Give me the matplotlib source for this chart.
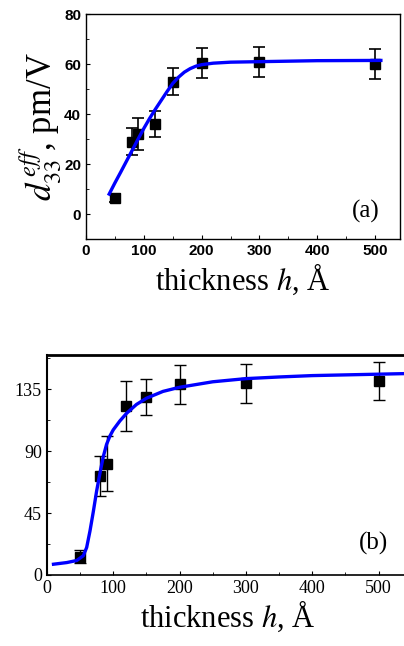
import numpy as np
import matplotlib.pyplot as plt
from matplotlib.ticker import MultipleLocator

plt.rcParams['mathtext.fontset'] = 'stix'

# panel (a): measured points
h_a = [50, 80, 90, 120, 150, 200, 300, 500]
d_a = [6.5, 29, 32, 36, 53, 60.5, 61, 60]
err_a = [1.5, 5.5, 6.3, 5.3, 5.5, 6, 6, 6]
# panel (a): fitted curve
fit_h_a = [40, 50, 60, 70, 80, 90, 100, 110, 120, 130, 140, 150, 160, 170,
           180, 190, 200, 220, 250, 300, 400, 510]
fit_d_a = [8.0, 12.5, 16.8, 21.2, 25.6, 30.0, 34.3, 38.3, 42.0, 45.5, 49.0,
           52.3, 54.8, 56.8, 58.2, 59.2, 59.8, 60.4, 60.8, 61.0, 61.4, 61.5]

# panel (b): measured points
h_b = [50, 80, 90, 120, 150, 200, 300, 500]
d_b = [13.4, 71.8, 80.8, 123, 129.4, 138.7, 139.4, 141]
err_b = [5, 14.5, 20, 18, 13, 14, 14, 14]
# panel (b): fitted curve
fit_h_b = [10, 30, 45, 55, 60, 65, 70, 75, 80, 85, 90, 95, 100, 110, 120,
           135, 150, 175, 200, 250, 300, 350, 400, 545]
fit_d_b = [7.8, 9.0, 10.5, 14, 20, 32, 46, 61, 74, 86, 95, 101, 105.5, 112,
           117.5, 124, 128.5, 133.5, 136.5, 140.5, 142.8, 144, 145, 146.5]

fig = plt.figure(figsize=(4.04, 6.46), dpi=100)

# ---- (a)
ax1 = fig.add_axes([0.213, 0.630, 0.777, 0.348])
ax1.errorbar(h_a, d_a, yerr=err_a, fmt='s', color='black', ms=7,
             capsize=4, elinewidth=1.2, capthick=1.2, zorder=2)
ax1.plot(fit_h_a, fit_d_a, color='#0000ff', lw=2.4, zorder=3)
ax1.set_xlim(0, 543)
ax1.set_ylim(-10, 80)
ax1.xaxis.set_major_locator(MultipleLocator(100))
ax1.xaxis.set_minor_locator(MultipleLocator(50))
ax1.yaxis.set_major_locator(MultipleLocator(20))
ax1.yaxis.set_minor_locator(MultipleLocator(10))
ax1.tick_params(which='both', direction='in', top=False, right=False)
ax1.tick_params(which='major', length=3)
ax1.tick_params(which='minor', length=2)
for lab in ax1.get_xticklabels() + ax1.get_yticklabels():
    lab.set_fontfamily('Liberation Sans')
    lab.set_fontweight('bold')
    lab.set_fontsize(11)
for sp in ax1.spines.values():
    sp.set_linewidth(1.0)
ax1.set_xlabel('thickness $h$, Å', family='Liberation Serif', fontsize=22, labelpad=3)
ax1.set_ylabel('$d_{33}^{\\,eff}$, pm/V', family='Liberation Serif', fontsize=25, labelpad=0)
ax1.text(483, 1, '(a)', family='Liberation Serif', fontsize=18, ha='center', va='center')

# ---- (b)
ax2 = fig.add_axes([0.116, 0.110, 0.895, 0.3405])
ax2.errorbar(h_b, d_b, yerr=err_b, fmt='s', color='black', ms=7,
             capsize=4, elinewidth=1.0, capthick=1.0, zorder=2)
ax2.plot(fit_h_b, fit_d_b, color='#0000ff', lw=2.4, zorder=3)
ax2.set_xlim(0, 545)
ax2.set_ylim(0, 160)
ax2.xaxis.set_major_locator(MultipleLocator(100))
ax2.xaxis.set_minor_locator(MultipleLocator(50))
ax2.yaxis.set_major_locator(MultipleLocator(45))
ax2.yaxis.set_minor_locator(MultipleLocator(22.5))
ax2.tick_params(which='both', direction='in', top=False, right=False)
ax2.tick_params(which='major', length=3)
ax2.tick_params(which='minor', length=2)
for lab in ax2.get_xticklabels() + ax2.get_yticklabels():
    lab.set_fontfamily('Liberation Serif')
    lab.set_fontsize(13)
ax2.spines['right'].set_visible(False)
ax2.spines['top'].set_linewidth(2.0)
ax2.spines['left'].set_linewidth(1.5)
ax2.spines['bottom'].set_linewidth(1.2)
ax2.set_xlabel('thickness $h$, Å', family='Liberation Serif', fontsize=22, labelpad=1)
ax2.text(492, 23, '(b)', family='Liberation Serif', fontsize=18, ha='center', va='center')

fig.savefig('out.png', dpi=100)
